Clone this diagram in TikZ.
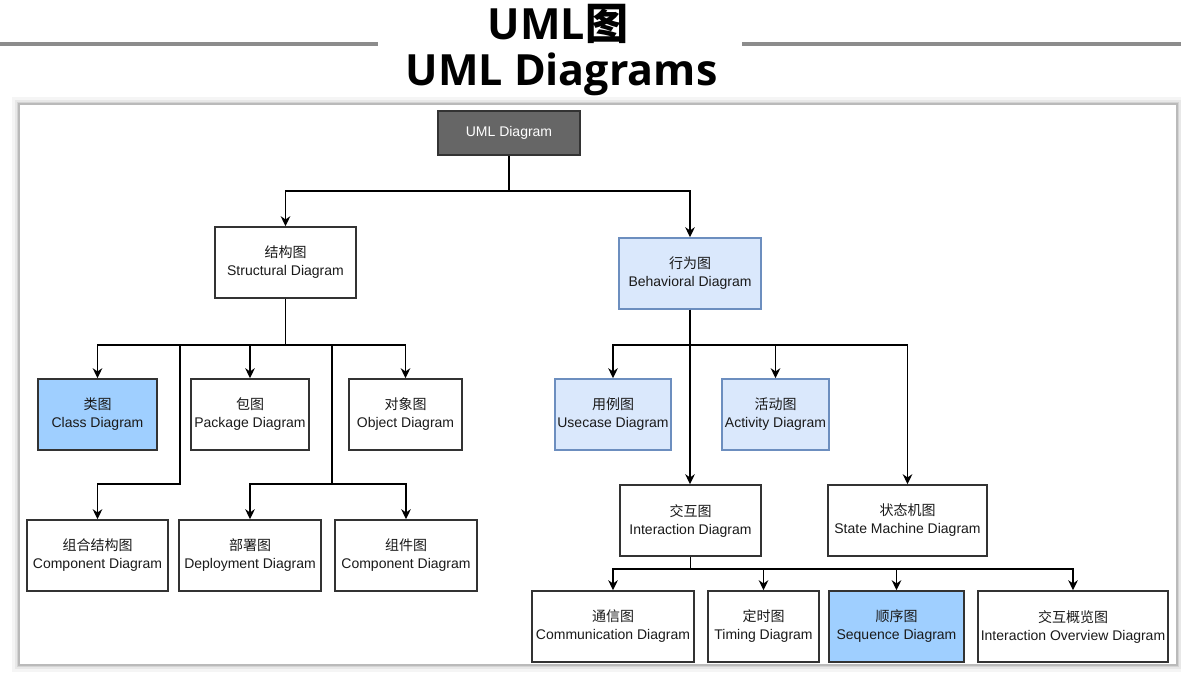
\documentclass[tikz,border=0pt]{standalone}
\usepackage{fontspec}
\setmainfont{Liberation Sans}
\newfontfamily\cjk{Noto Sans CJK SC}
\newfontfamily\titlefont{Open Sans}
\usepackage{tikz}
\usetikzlibrary{arrows.meta,positioning}
\definecolor{boxline}{HTML}{333333}
\definecolor{textc}{HTML}{1A1A1A}
\definecolor{darkfill}{HTML}{666666}
\definecolor{lblue}{HTML}{DAE8FC}
\definecolor{lblueline}{HTML}{6C8EBF}
\definecolor{mblue}{HTML}{9FCFFF}
\definecolor{rule}{HTML}{8C8C8C}
\newcommand{\boxfont}{\fontsize{7}{9}\selectfont}
\newcommand{\zh}[1]{{\cjk #1}}
\begin{document}
\begin{tikzpicture}[x=0.5pt,y=-0.5pt,
box/.style={draw=boxline,line width=0.8pt,fill=white,align=center,minimum height=35.5pt,inner sep=1pt,font=\boxfont,text=textc},
wd/.style={minimum width=#1*0.5pt},
pale/.style={fill=lblue,draw=lblueline},
hl/.style={fill=mblue},
arr/.style={-{Stealth[length=5pt,width=4.8pt]},line width=0.8pt}]
\useasboundingbox (0,0) rectangle (1181,677);
\fill[white] (0,0) rectangle (1181,677);
% title and rules
\node[anchor=base,font=\titlefont\bfseries\fontsize{21.5}{23}\selectfont] (title1) at (558,39) {UML{\cjk\bfseries 图}};
\node[anchor=base,font=\titlefont\bfseries\fontsize{21.5}{23}\selectfont] (title2) at (561.5,85) {UML Diagrams};
\draw[rule,line width=2pt] (0,44) -- (378,44) (742,44) -- (1181,44);
% panel with soft shadow
\fill[black!4] (12,97) rectangle (1184,672);
\fill[black!9] (15,100) rectangle (1181,669);
\fill[black!17] (17,102) rectangle (1179,667);
\draw[black!27,fill=white,line width=1pt] (19,104) rectangle (1177,665);
% nodes
\node[box,wd=142,minimum height=22pt,fill=darkfill,text=white] (uml) at (509,133) {UML Diagram};
\node[box,wd=141] (struct) at (285.5,262.5) {\zh{结构图}\\Structural Diagram};
\node[box,wd=142,pale] (beh) at (690,273.5) {\zh{行为图}\\Behavioral Diagram};
\node[box,wd=119,hl] (class) at (97.5,414.5) {\zh{类图}\\Class Diagram};
\node[box,wd=118] (pkg) at (250,414.5) {\zh{包图}\\Package Diagram};
\node[box,wd=113] (obj) at (405.5,414.5) {\zh{对象图}\\Object Diagram};
\node[box,wd=141] (csd) at (97.5,555.5) {\zh{组合结构图}\\Component Diagram};
\node[box,wd=142] (dep) at (250,555.5) {\zh{部署图}\\Deployment Diagram};
\node[box,wd=142] (comp) at (406,555.5) {\zh{组件图}\\Component Diagram};
\node[box,wd=116,pale] (use) at (613,414.5) {\zh{用例图}\\Usecase Diagram};
\node[box,wd=107,pale] (act) at (775.5,414.5) {\zh{活动图}\\Activity Diagram};
\node[box,wd=141] (inter) at (690.5,520.5) {\zh{交互图}\\Interaction Diagram};
\node[box,wd=159] (sm) at (907.5,520.5) {\zh{状态机图}\\State Machine Diagram};
\node[box,wd=162] (comm) at (613,626.5) {\zh{通信图}\\Communication Diagram};
\node[box,wd=111] (timing) at (763.5,626.5) {\zh{定时图}\\Timing Diagram};
\node[box,wd=135,hl] (seq) at (896.5,626.5) {\zh{顺序图}\\Sequence Diagram};
\node[box,wd=190] (ov) at (1073,626.5) {\zh{交互概览图}\\Interaction Overview Diagram};
% connectors
\draw[arr] (uml.south) -- ++(0,35) -| (struct.north);\draw[arr] (uml.south) -- ++(0,35) -| (beh.north);
\draw[arr] (struct.south) -- ++(0,46) -| (class.north);\draw[arr] (struct.south) -- ++(0,46) -| (pkg.north);
\draw[arr] (struct.south) -- ++(0,46) -| (obj.north);
\draw[arr] (struct.south) -- ++(0,46) -| (180,484) -| (csd.north);
\draw[arr] (struct.south) -- ++(0,46) -| (332,484) -| (dep.north);\draw[arr] (struct.south) -- ++(0,46) -| (332,484) -| (comp.north);
\draw[arr] (beh.south) -- ++(0,35) -| (use.north);\draw[arr] (beh.south) -- ++(0,35) -| (act.north);
\draw[arr] (beh.south) -- ++(0,35) -| (sm.north);\draw[arr] (beh.south) -- (beh.south |- inter.north);
\draw[arr] (inter.south) -- ++(0,12) -| (comm.north);\draw[arr] (inter.south) -- ++(0,12) -| (timing.north);
\draw[arr] (inter.south) -- ++(0,12) -| (seq.north);\draw[arr] (inter.south) -- ++(0,12) -| (ov.north);
\end{tikzpicture}
\end{document}
